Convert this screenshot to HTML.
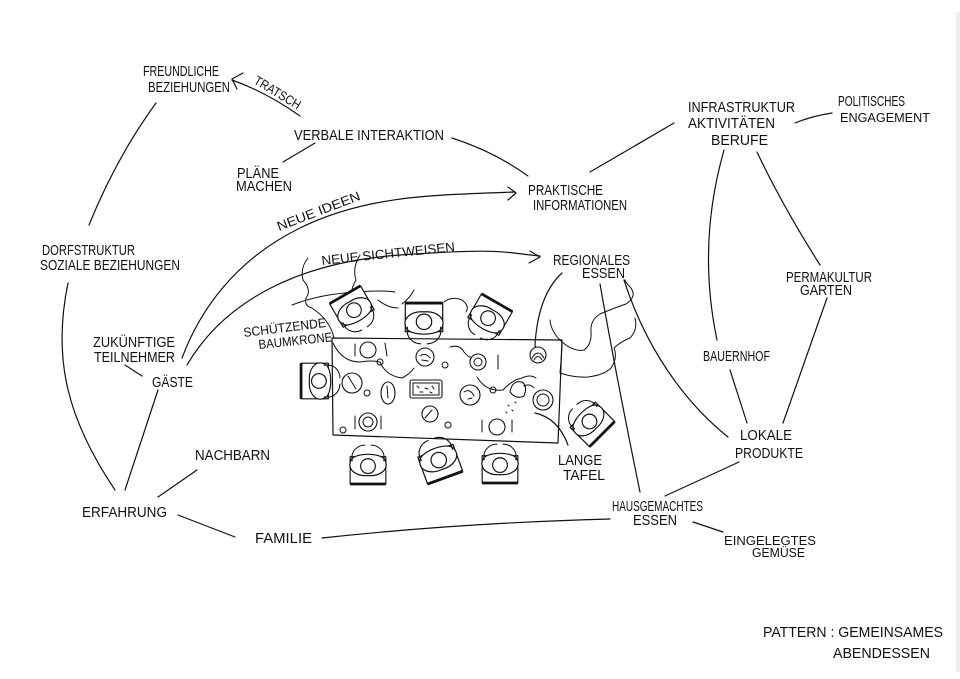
<!DOCTYPE html>
<html>
<head>
<meta charset="utf-8">
<style>
  html,body{margin:0;padding:0;background:#fff;}
  body{width:960px;height:679px;overflow:hidden;}
  svg{display:block;}
  .t{font-family:"Liberation Sans","DejaVu Sans",sans-serif;font-size:15px;fill:#111;}
  .s{font-size:13px;}
  .l{fill:none;stroke:#111;stroke-width:1.2;stroke-linecap:round;stroke-linejoin:round;}
  .w{fill:#fff;stroke:#111;stroke-width:1.1;stroke-linejoin:round;}
  .f{fill:none;stroke:#111;stroke-width:1;stroke-linecap:round;}
</style>
</head>
<body>
<svg width="960" height="679" viewBox="0 0 960 679" xmlns="http://www.w3.org/2000/svg">
  <rect x="0" y="0" width="960" height="679" fill="#fff"/>
  <rect x="956" y="12" width="4" height="660" fill="#efefef"/>

  <defs>
    <g id="person">
      <rect x="-17" y="-19" width="34" height="26" class="w"/>
      <line x1="-17" y1="-19" x2="17" y2="-19" stroke="#111" stroke-width="2.6"/>
      <path class="w" d="M-16,4 C-21,-6 -10,-12 0,-11 C10,-12 21,-6 16,4 C12,11 -12,11 -16,4 Z"/>
      <circle cx="0" cy="-2" r="7" class="w"/>
      <path class="f" d="M-15,3 C-17,12 -10,18 -3,18 M15,3 C17,12 10,18 3,18"/>
    </g>
  </defs>

  <!-- ===== connectors ===== -->
  <path class="l" d="M156,103 Q116,158 89,225"/>
  <path class="l" d="M300,116 Q266,92 232,80"/>
  <path class="l" d="M243,73 L232,79 L237,89"/>
  <path class="l" d="M315,143 L283,162"/>
  <path class="l" d="M452,138 Q495,152 528,176"/>
  <path class="l" d="M590,172 L674,123"/>
  <path class="l" d="M795,123 Q812,116 832,113"/>
  <path class="l" d="M724,150 Q697,245 717,340"/>
  <path class="l" d="M730,370 L747,423"/>
  <path class="l" d="M757,152 Q782,205 820,265"/>
  <path class="l" d="M827,298 L783,423"/>
  <path class="l" d="M624,280 C640,330 672,392 728,437"/>
  <path class="l" d="M600,284 Q617,380 640,492"/>
  <path class="l" d="M562,273 Q538,295 535,345 Q536,354 541,357"/>
  <path class="l" d="M665,496 L739,462"/>
  <path class="l" d="M693,522 L723,532"/>
  <path class="l" d="M322,538 Q460,523 610,519"/>
  <path class="l" d="M178,515 L235,537"/>
  <path class="l" d="M158,497 L197,470"/>
  <path class="l" d="M125,490 L158,390"/>
  <path class="l" d="M68,283 C52,360 68,420 115,490"/>
  <path class="l" d="M125,365 L142,376"/>
  <path class="l" d="M182,358 C200,310 235,260 300,228 S430,195 515,192"/>
  <path class="l" d="M508,187 L516,193 L508,200"/>
  <path class="l" d="M187,365 C225,300 300,262 400,255 S500,252 540,256"/>
  <path class="l" d="M530,251 L540,257 L529,263"/>
  <path class="l" d="M535,413 Q558,418 568,445"/>

  <!-- ===== tree crown ===== -->
  <path class="f" d="M292,305 Q320,294 357,292 Q380,290 395,292"/>
  <path class="f" d="M308,258 Q300,268 303,280 Q312,290 306,298 Q304,306 312,308 Q330,320 334,338"/>
  <path class="f" d="M360,255 Q352,268 356,280 Q350,290 352,298"/>
  <path class="f" d="M333,343 Q342,362 360,362 Q372,360 380,362 Q386,376 402,378 Q410,374 414,368"/>
  <path class="f" d="M402,304 Q410,298 414,290"/>
  <path class="f" d="M444,302 Q452,296 462,300 Q470,306 466,312"/>
  <path class="f" d="M450,347 Q460,344 464,352 Q470,360 476,356"/>
  <path class="f" d="M477,377 Q486,392 503,390 Q512,380 522,378 Q530,374 536,378"/>
  <path class="f" d="M378,300 Q388,308 398,308"/>
  <path class="f" d="M550,320 Q551,332 562,342 Q574,352 584,350 Q592,344 591,332 Q590,320 600,314 Q614,308 626,304 Q638,296 630,287 Q626,283 625,280"/>
  <path class="f" d="M560,373 Q575,378 588,377 Q604,375 611,368 Q618,358 614,348 Q620,342 630,338 Q638,330 635,318"/>
  <path class="f" d="M562,340 Q562,352 560,373"/>

  <!-- ===== table ===== -->
  <path class="l" d="M332,338 L562,340 L558,443 L333,435 Z"/>

  <use href="#person" transform="translate(355,312) rotate(-30) scale(1.05)"/>
  <use href="#person" transform="translate(424,324) scale(1.1)"/>
  <use href="#person" transform="translate(487,320) rotate(30) scale(1.05)"/>
  <use href="#person" transform="translate(321,381) rotate(-90) scale(1.05)"/>
  <use href="#person" transform="translate(588,420) rotate(135) scale(1.05)"/>
  <use href="#person" transform="translate(368,464) rotate(180) scale(1.05)"/>
  <use href="#person" transform="translate(438,458) rotate(160) scale(1.1)"/>
  <use href="#person" transform="translate(500,463) rotate(180) scale(1.05)"/>

  <circle cx="368" cy="350" r="8" class="w"/>
  <path class="f" d="M355,344 L355,356 M385,343 L387,356"/>
  <circle cx="425" cy="357" r="9" class="w"/>
  <path class="f" d="M420,356 Q425,352 430,358 M422,360 L428,361"/>
  <circle cx="478" cy="362" r="8" class="w"/>
  <circle cx="478" cy="362" r="4" class="f"/>
  <path class="f" d="M498,355 L498,369"/>
  <circle cx="538" cy="355" r="8" class="w"/>
  <path class="f" d="M532,358 Q538,348 544,358 M534,360 Q538,353 542,360"/>
  <circle cx="352" cy="383" r="10" class="w"/>
  <path class="f" d="M348,376 L356,389"/>
  <ellipse cx="388" cy="393" rx="7" ry="11" class="w"/>
  <path class="f" d="M387,386 L388,398"/>
  <rect x="410" y="380" width="32" height="18" rx="2" class="w"/>
  <rect x="413" y="383" width="26" height="12" class="f"/>
  <path class="f" d="M417,386 l2,2 M425,388 l3,1 M432,386 l2,3 M420,392 l3,0 M430,392 l2,1"/>
  <circle cx="470" cy="395" r="10" class="w" stroke-width="1.6"/>
  <path class="f" d="M464,392 Q470,388 474,396 M468,399 l4,-1"/>
  <path class="w" d="M510,392 Q512,380 522,382 Q528,386 524,396 Q516,400 510,392 Z"/>
  <path class="f" d="M524,386 Q530,383 534,388"/>
  <circle cx="543" cy="400" r="10" class="w"/>
  <circle cx="543" cy="400" r="6" class="f"/>
  <circle cx="368" cy="422" r="9" class="w"/>
  <circle cx="368" cy="422" r="5" class="f"/>
  <path class="f" d="M355,416 L355,429 M381,416 L381,429"/>
  <circle cx="430" cy="414" r="8" class="w"/>
  <path class="f" d="M425,418 L432,410"/>
  <circle cx="497" cy="427" r="8" class="w"/>
  <path class="f" d="M482,420 L482,432 M512,420 L512,432"/>
  <circle cx="380" cy="362" r="3" class="f"/>
  <circle cx="367" cy="393" r="3" class="f"/>
  <circle cx="343" cy="430" r="3" class="f"/>
  <circle cx="448" cy="425" r="3" class="f"/>
  <circle cx="493" cy="390" r="3" class="f"/>
  <circle cx="445" cy="365" r="3" class="f"/>
  <path class="f" d="M508,405 l1,1 M512,410 l1,1 M506,412 l1,1 M515,402 l1,1"/>

  <!-- ===== labels ===== -->
  <text class="t" x="143" y="76" textLength="76" lengthAdjust="spacingAndGlyphs">FREUNDLICHE</text>
  <text class="t" x="148" y="92" textLength="82" lengthAdjust="spacingAndGlyphs">BEZIEHUNGEN</text>
  <text class="t s" x="253" y="83" textLength="52" lengthAdjust="spacingAndGlyphs" transform="rotate(31 253 83)">TRATSCH</text>
  <text class="t" x="294" y="140" textLength="150" lengthAdjust="spacingAndGlyphs">VERBALE  INTERAKTION</text>
  <text class="t" x="237" y="178" textLength="42" lengthAdjust="spacingAndGlyphs">PLÄNE</text>
  <text class="t" x="236" y="191" textLength="56" lengthAdjust="spacingAndGlyphs">MACHEN</text>
  <text class="t s" x="279" y="231" textLength="88" lengthAdjust="spacingAndGlyphs" transform="rotate(-21 279 231)">NEUE IDEEN</text>
  <text class="t s" x="322" y="265" textLength="134" lengthAdjust="spacingAndGlyphs" transform="rotate(-6 322 265)">NEUE SICHTWEISEN</text>
  <text class="t" x="42" y="255" textLength="93" lengthAdjust="spacingAndGlyphs">DORFSTRUKTUR</text>
  <text class="t" x="40" y="270" textLength="140" lengthAdjust="spacingAndGlyphs">SOZIALE BEZIEHUNGEN</text>
  <text class="t" x="528" y="195" textLength="75" lengthAdjust="spacingAndGlyphs">PRAKTISCHE</text>
  <text class="t" x="533" y="210" textLength="94" lengthAdjust="spacingAndGlyphs">INFORMATIONEN</text>
  <text class="t" x="688" y="112" textLength="107" lengthAdjust="spacingAndGlyphs">INFRASTRUKTUR</text>
  <text class="t" x="688" y="128" textLength="87" lengthAdjust="spacingAndGlyphs">AKTIVITÄTEN</text>
  <text class="t" x="711" y="145" textLength="57" lengthAdjust="spacingAndGlyphs">BERUFE</text>
  <text class="t" x="838" y="106" textLength="67" lengthAdjust="spacingAndGlyphs">POLITISCHES</text>
  <text class="t s" x="840" y="122" textLength="90" lengthAdjust="spacingAndGlyphs">ENGAGEMENT</text>
  <text class="t" x="553" y="265" textLength="77" lengthAdjust="spacingAndGlyphs">REGIONALES</text>
  <text class="t" x="582" y="278" textLength="43" lengthAdjust="spacingAndGlyphs">ESSEN</text>
  <text class="t" x="786" y="282" textLength="86" lengthAdjust="spacingAndGlyphs">PERMAKULTUR</text>
  <text class="t" x="800" y="295" textLength="52" lengthAdjust="spacingAndGlyphs">GARTEN</text>
  <text class="t" x="703" y="361" textLength="67" lengthAdjust="spacingAndGlyphs">BAUERNHOF</text>
  <text class="t" x="740" y="440" textLength="52" lengthAdjust="spacingAndGlyphs">LOKALE</text>
  <text class="t" x="735" y="458" textLength="68" lengthAdjust="spacingAndGlyphs">PRODUKTE</text>
  <text class="t" x="558" y="465" textLength="44" lengthAdjust="spacingAndGlyphs">LANGE</text>
  <text class="t" x="563" y="480" textLength="42" lengthAdjust="spacingAndGlyphs">TAFEL</text>
  <text class="t" x="612" y="511" textLength="91" lengthAdjust="spacingAndGlyphs">HAUSGEMACHTES</text>
  <text class="t" x="633" y="525" textLength="44" lengthAdjust="spacingAndGlyphs">ESSEN</text>
  <text class="t s" x="724" y="545" textLength="92" lengthAdjust="spacingAndGlyphs">EINGELEGTES</text>
  <text class="t s" x="752" y="557" textLength="53" lengthAdjust="spacingAndGlyphs">GEMÜSE</text>
  <text class="t" x="93" y="347" textLength="82" lengthAdjust="spacingAndGlyphs">ZUKÜNFTIGE</text>
  <text class="t" x="94" y="362" textLength="81" lengthAdjust="spacingAndGlyphs">TEILNEHMER</text>
  <text class="t" x="152" y="387" textLength="41" lengthAdjust="spacingAndGlyphs">GÄSTE</text>
  <text class="t" x="195" y="460" textLength="75" lengthAdjust="spacingAndGlyphs">NACHBARN</text>
  <text class="t" x="82" y="517" textLength="85" lengthAdjust="spacingAndGlyphs">ERFAHRUNG</text>
  <text class="t" x="255" y="543" textLength="57" lengthAdjust="spacingAndGlyphs">FAMILIE</text>
  <text class="t s" x="244" y="337" textLength="83" lengthAdjust="spacingAndGlyphs" transform="rotate(-7 244 337)">SCHÜTZENDE</text>
  <text class="t s" x="259" y="349" textLength="74" lengthAdjust="spacingAndGlyphs" transform="rotate(-6 259 349)">BAUMKRONE</text>
  <text class="t" x="763" y="637" textLength="180" lengthAdjust="spacingAndGlyphs">PATTERN : GEMEINSAMES</text>
  <text class="t" x="833" y="658" textLength="97" lengthAdjust="spacingAndGlyphs">ABENDESSEN</text>
</svg>
</body>
</html>
